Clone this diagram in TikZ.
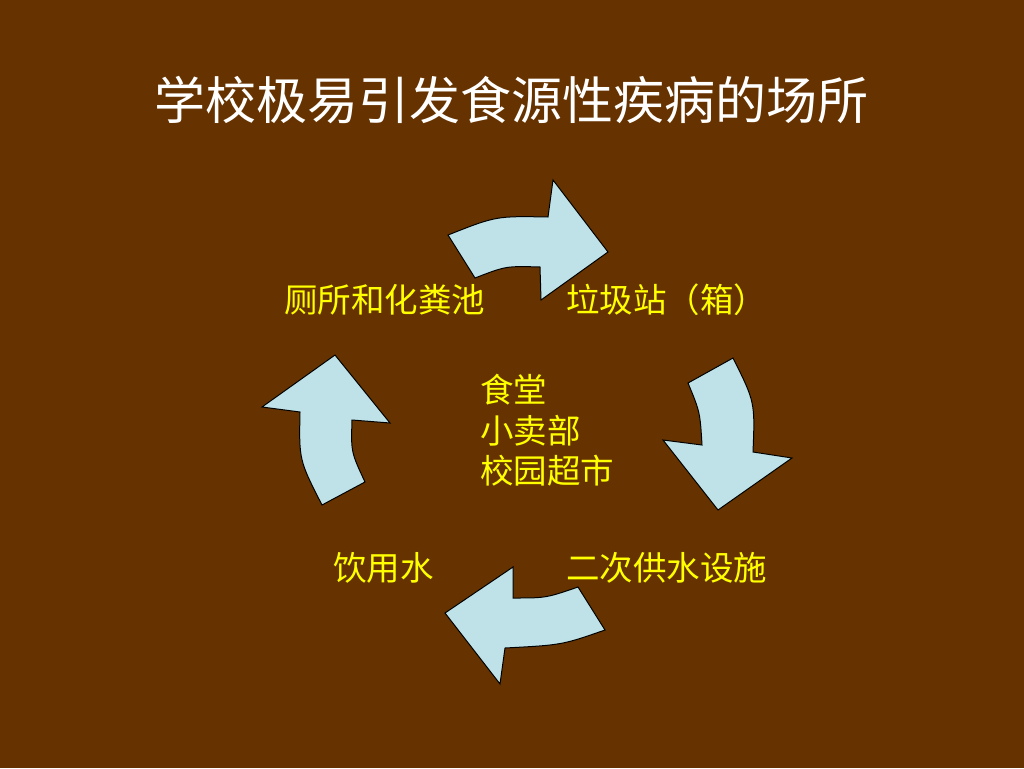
\documentclass[tikz,border=0pt]{standalone}
\usepackage{fontspec}
\newfontfamily\cjk{Noto Sans CJK SC}
\definecolor{bg}{RGB}{102,51,0}
\definecolor{arrowfill}{RGB}{190,226,231}
\definecolor{lbl}{RGB}{255,255,0}
\tikzset{
  blockarrow/.style={draw=black, line width=1pt, fill=arrowfill, line join=miter},
  lab/.style={text=lbl, font=\cjk\fontsize{33.5}{40}\selectfont, anchor=west, inner sep=0pt},
  titletext/.style={text=white, font=\cjk\fontsize{51}{60}\selectfont, inner sep=0pt}
}
\begin{document}
\begin{tikzpicture}[x=1pt,y=-1pt]
\fill[bg] (0,0) rectangle (1024,768);
\useasboundingbox (0,0) rectangle (1024,768);

\node[titletext] (title) at (511.5,100) {学校极易引发食源性疾病的场所};

% top arrow
\draw[blockarrow] (475,278) -- (448,235) .. controls (496,216) .. (548,217)
  -- (553,180) -- (608,252) -- (541,300) -- (540,267)
  .. controls (506,266) .. (475,278) -- cycle;
% right arrow
\draw[blockarrow] (688,383) -- (733,358) .. controls (755,402) .. (753,452)
  -- (792,458) -- (718,510) -- (663,440) -- (702,445)
  .. controls (700,412) .. (688,383) -- cycle;
% bottom arrow
\draw[blockarrow] (605,630) -- (578,587) .. controls (546,598) .. (513,598)
  -- (513,567) -- (445,613) -- (500,684) -- (505,648)
  .. controls (562,645) .. (605,630) -- cycle;
% left arrow
\draw[blockarrow] (322,505) -- (365,482) .. controls (351,452) .. (352,420)
  -- (390,423) -- (335,355) -- (262,407) -- (300,412)
  .. controls (299,460) .. (322,505) -- cycle;

\node[lab] (toilet) at (284,300) {厕所和化粪池};
\node[lab] (garbage) at (566,300) {垃圾站（箱）};
\node[lab] (canteen) at (480,390) {食堂};
\node[lab] (shop) at (480,431) {小卖部};
\node[lab] (market) at (480,471) {校园超市};
\node[lab] (drink) at (333,568) {饮用水};
\node[lab] (supply) at (566,568) {二次供水设施};
\end{tikzpicture}
\end{document}
